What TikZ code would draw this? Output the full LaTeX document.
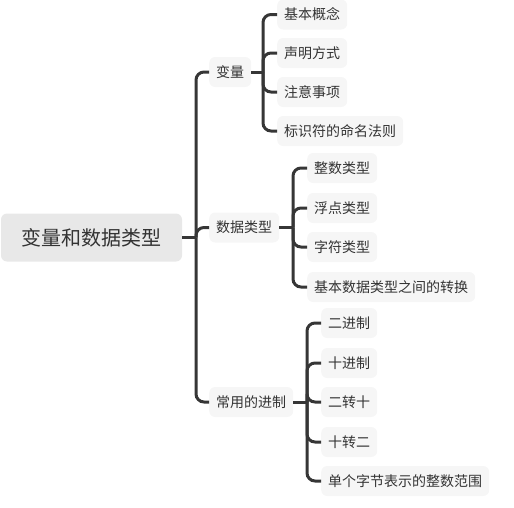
\documentclass[tikz,border=0pt]{standalone}
\usepackage{fontspec}
\setmainfont{Noto Sans CJK SC}
\definecolor{linec}{HTML}{363636}
\definecolor{txtc}{HTML}{333333}
\definecolor{rootfill}{HTML}{E8E8E8}
\definecolor{boxfill}{HTML}{F6F6F6}
\begin{document}
\begin{tikzpicture}[x=1pt,y=1pt,
  rootbox/.style={fill=rootfill, rounded corners=6pt, minimum width=181pt, minimum height=48pt, inner sep=0pt, text=txtc, font=\fontsize{20}{20}\selectfont},
  topicbox/.style={fill=boxfill, rounded corners=6pt, minimum height=30pt, inner xsep=7pt, inner ysep=0pt, text=txtc, font=\fontsize{14}{14}\selectfont, anchor=west},
  conn/.style={draw=linec, line width=3pt, rounded corners=8pt},
  stem/.style={draw=linec, line width=3pt}
]
\useasboundingbox (0,0) rectangle (514,-507);

% root
\node[rootbox] (root) at (91.5,-237.5) {变量和数据类型};
\coordinate (s0) at (196,-237.5);

% level 1
\node[topicbox] (a) at (209,-72) {变量};
\node[topicbox] (b) at (209,-227.5) {数据类型};
\node[topicbox] (c) at (209,-402) {常用的进制};

\coordinate (s1) at (263,-72);
\coordinate (s2) at (293,-227.5);
\coordinate (s3) at (307,-402);

% level 2 under 变量
\node[topicbox] (a1) at (277,-14.5) {基本概念};
\node[topicbox] (a2) at (277,-53) {声明方式};
\node[topicbox] (a3) at (277,-92) {注意事项};
\node[topicbox] (a4) at (277,-131) {标识符的命名法则};

% level 2 under 数据类型
\node[topicbox] (b1) at (307,-168) {整数类型};
\node[topicbox] (b2) at (307,-208) {浮点类型};
\node[topicbox] (b3) at (307,-247) {字符类型};
\node[topicbox] (b4) at (307,-287) {基本数据类型之间的转换};

% level 2 under 常用的进制
\node[topicbox] (c1) at (321,-323) {二进制};
\node[topicbox] (c2) at (321,-363) {十进制};
\node[topicbox] (c3) at (321,-402) {二转十};
\node[topicbox] (c4) at (321,-442) {十转二};
\node[topicbox] (c5) at (321,-481) {单个字节表示的整数范围};

% connectors
\draw[stem] (root.east) -- (s0);
\foreach \n in {a,b,c} \draw[conn] (s0) |- (\n.west);

\draw[stem] (a.east) -- (s1);
\foreach \n in {a1,a2,a3,a4} \draw[conn] (s1) |- (\n.west);

\draw[stem] (b.east) -- (s2);
\foreach \n in {b1,b2,b3,b4} \draw[conn] (s2) |- (\n.west);

\draw[stem] (c.east) -- (s3);
\foreach \n in {c1,c2,c3,c4,c5} \draw[conn] (s3) |- (\n.west);
\end{tikzpicture}
\end{document}
